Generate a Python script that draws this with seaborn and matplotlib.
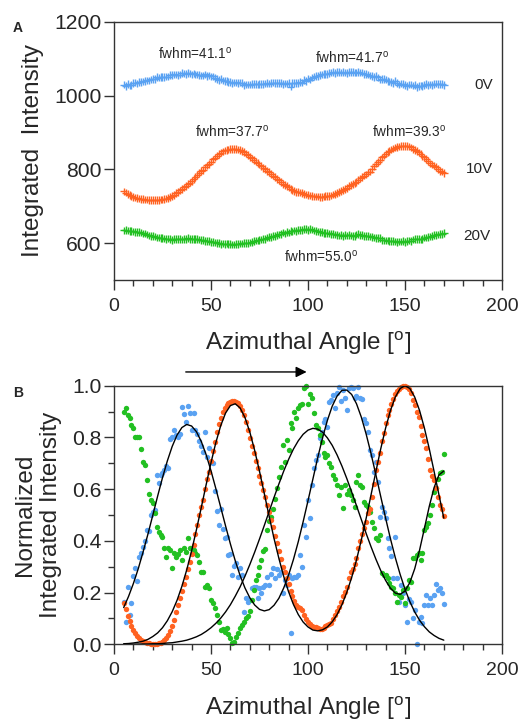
import numpy as np
import pandas as pd
import matplotlib
matplotlib.use("Agg")
import matplotlib.pyplot as plt
import seaborn as sns
from matplotlib.ticker import MultipleLocator, FormatStrFormatter

sns.set_style("ticks")
plt.rcParams['font.family'] = ['Liberation Sans', 'DejaVu Sans']
plt.rcParams['mathtext.fontset'] = 'custom'
plt.rcParams['mathtext.rm'] = 'Liberation Sans'
plt.rcParams['mathtext.it'] = 'Liberation Sans:italic'

# ---------------------------------------------------------------- data
angle = list(range(5, 171))          # azimuthal angle, degrees

# normalized integrated intensity, one value per degree
norm_0v = [
    0.165, 0.088, 0.222, 0.112, 0.158, 0.265, 0.294, 0.243, 0.339, 0.352,
    0.375, 0.398, 0.440, 0.438, 0.500, 0.512, 0.520, 0.655, 0.625, 0.655,
    0.662, 0.672, 0.688, 0.680, 0.795, 0.800, 0.828, 0.810, 0.800, 0.812,
    0.918, 0.892, 0.860, 0.920, 0.895, 0.828, 0.895, 0.830, 0.815, 0.785,
    0.765, 0.745, 0.822, 0.725, 0.760, 0.705, 0.700, 0.592, 0.515, 0.462,
    0.525, 0.445, 0.410, 0.415, 0.345, 0.348, 0.268, 0.302, 0.315, 0.262,
    0.295, 0.268, 0.126, 0.178, 0.165, 0.172, 0.216, 0.222, 0.223, 0.178,
    0.216, 0.200, 0.223, 0.229, 0.262, 0.230, 0.270, 0.294, 0.255, 0.292,
    0.268, 0.280, 0.197, 0.248, 0.230, 0.268, 0.042, 0.255, 0.262, 0.260,
    0.268, 0.345, 0.300, 0.462, 0.416, 0.558, 0.488, 0.616, 0.680, 0.712,
    0.732, 0.796, 0.822, 0.861, 0.873, 0.841, 0.938, 0.944, 0.964, 0.912,
    0.970, 0.996, 0.940, 0.983, 0.951, 0.906, 0.990, 0.996, 0.990, 0.951,
    0.960, 0.996, 0.951, 0.950, 0.873, 0.854, 0.820, 0.751, 0.732, 0.667,
    0.706, 0.629, 0.493, 0.532, 0.513, 0.487, 0.410, 0.371, 0.340, 0.255,
    0.416, 0.255, 0.165, 0.229, 0.200, 0.152, 0.087, 0.175, 0.165, 0.100,
    0.133, 0.003, 0.087, 0.107, 0.081, 0.150, 0.190, 0.152, 0.178, 0.152,
    0.190, 0.232, 0.210, 0.216, 0.197, 0.154,
]
norm_10v = [
    0.160, 0.135, 0.110, 0.090, 0.072, 0.056, 0.043, 0.033, 0.024, 0.018,
    0.013, 0.009, 0.006, 0.004, 0.003, 0.003, 0.002, 0.003, 0.004, 0.006,
    0.010, 0.016, 0.024, 0.036, 0.052, 0.070, 0.095, 0.125, 0.150, 0.178,
    0.205, 0.232, 0.262, 0.292, 0.320, 0.350, 0.382, 0.425, 0.462, 0.498,
    0.530, 0.556, 0.600, 0.640, 0.667, 0.710, 0.748, 0.783, 0.820, 0.850,
    0.875, 0.898, 0.915, 0.925, 0.932, 0.938, 0.940, 0.941, 0.938, 0.932,
    0.920, 0.905, 0.885, 0.858, 0.828, 0.797, 0.768, 0.738, 0.708, 0.680,
    0.652, 0.622, 0.595, 0.568, 0.540, 0.512, 0.482, 0.452, 0.420, 0.390,
    0.360, 0.328, 0.300, 0.278, 0.255, 0.232, 0.205, 0.185, 0.168, 0.152,
    0.145, 0.140, 0.132, 0.115, 0.098, 0.088, 0.080, 0.072, 0.068, 0.066,
    0.062, 0.060, 0.058, 0.062, 0.070, 0.075, 0.078, 0.082, 0.098, 0.112,
    0.128, 0.145, 0.165, 0.185, 0.202, 0.222, 0.255, 0.278, 0.292, 0.312,
    0.335, 0.372, 0.398, 0.425, 0.450, 0.474, 0.508, 0.525, 0.570, 0.620,
    0.672, 0.705, 0.740, 0.785, 0.818, 0.855, 0.885, 0.905, 0.930, 0.950,
    0.968, 0.978, 0.988, 0.995, 0.999, 1.000, 0.995, 0.988, 0.972, 0.945,
    0.925, 0.900, 0.878, 0.845, 0.810, 0.785, 0.758, 0.715, 0.675, 0.652,
    0.635, 0.605, 0.570, 0.540, 0.525, 0.495,
]
norm_20v = [
    0.900, 0.912, 0.886, 0.876, 0.848, 0.835, 0.803, 0.800, 0.803, 0.757,
    0.706, 0.693, 0.635, 0.583, 0.558, 0.545, 0.506, 0.455, 0.435, 0.422,
    0.416, 0.373, 0.339, 0.373, 0.364, 0.294, 0.352, 0.339, 0.350, 0.364,
    0.326, 0.371, 0.358, 0.410, 0.371, 0.371, 0.364, 0.352, 0.345, 0.319,
    0.281, 0.278, 0.223, 0.229, 0.216, 0.170, 0.159, 0.139, 0.113, 0.085,
    0.055, 0.060, 0.049, 0.062, 0.040, 0.023, 0.004, 0.010, 0.030, 0.042,
    0.062, 0.075, 0.088, 0.100, 0.110, 0.130, 0.170, 0.210, 0.250, 0.268,
    0.300, 0.326, 0.362, 0.370, 0.442, 0.475, 0.493, 0.525, 0.560, 0.603,
    0.645, 0.687, 0.770, 0.706, 0.790, 0.751, 0.855, 0.835, 0.899, 0.874,
    0.912, 0.925, 0.930, 0.990, 1.000, 0.930, 0.968, 0.951, 0.893, 0.848,
    0.835, 0.809, 0.783, 0.738, 0.725, 0.732, 0.700, 0.687, 0.654, 0.641,
    0.616, 0.577, 0.609, 0.526, 0.616, 0.583, 0.596, 0.577, 0.558, 0.532,
    0.629, 0.654, 0.616, 0.610, 0.551, 0.538, 0.532, 0.513, 0.474, 0.448,
    0.410, 0.403, 0.423, 0.274, 0.268, 0.268, 0.255, 0.236, 0.223, 0.216,
    0.197, 0.165, 0.190, 0.184, 0.210, 0.158, 0.216, 0.248, 0.242, 0.332,
    0.335, 0.346, 0.352, 0.326, 0.352, 0.442, 0.455, 0.468, 0.500, 0.538,
    0.590, 0.603, 0.641, 0.661, 0.665, 0.735,
]

# raw intensity range (min, max) of each voltage, used to undo the normalization
intensity_range = {"0V": (1023, 1065), "10V": (717, 864), "20V": (596, 639)}

# fitted curves, sampled every 2.5 degrees from 5 to 170
fit_angle = [5 + 2.5 * i for i in range(67)]
fit_0v = [
    0.142, 0.185, 0.235, 0.292, 0.357, 0.426, 0.499, 0.573, 0.644, 0.709,
    0.765, 0.809, 0.838, 0.850, 0.844, 0.822, 0.784, 0.733, 0.671, 0.602,
    0.530, 0.458, 0.388, 0.323, 0.266, 0.218, 0.180, 0.152, 0.135, 0.129,
    0.134, 0.151, 0.178, 0.218, 0.268, 0.328, 0.397, 0.474, 0.555, 0.638,
    0.721, 0.798, 0.866, 0.921, 0.960, 0.982, 0.983, 0.966, 0.930, 0.878,
    0.812, 0.737, 0.655, 0.571, 0.488, 0.408, 0.335, 0.270, 0.213, 0.165,
    0.125, 0.093, 0.068, 0.048, 0.034, 0.023, 0.016,
]
fit_10v = [
    0.002, 0.003, 0.005, 0.008, 0.012, 0.019, 0.030, 0.044, 0.064, 0.091,
    0.126, 0.170, 0.224, 0.288, 0.361, 0.443, 0.529, 0.617, 0.702, 0.780,
    0.845, 0.894, 0.923, 0.930, 0.914, 0.877, 0.821, 0.750, 0.669, 0.582,
    0.494, 0.409, 0.332, 0.262, 0.203, 0.154, 0.115, 0.086, 0.067, 0.055,
    0.052, 0.056, 0.067, 0.087, 0.115, 0.153, 0.201, 0.258, 0.326, 0.404,
    0.488, 0.578, 0.668, 0.756, 0.836, 0.904, 0.956, 0.989, 1.000, 0.989,
    0.956, 0.904, 0.836, 0.756, 0.668, 0.578, 0.488,
]
fit_20v = [
    0.000, 0.000, 0.000, 0.001, 0.001, 0.001, 0.002, 0.002, 0.003, 0.005,
    0.006, 0.009, 0.012, 0.016, 0.022, 0.029, 0.038, 0.050, 0.064, 0.081,
    0.101, 0.125, 0.153, 0.186, 0.222, 0.263, 0.308, 0.356, 0.407, 0.460,
    0.514, 0.568, 0.620, 0.670, 0.715, 0.755, 0.787, 0.812, 0.828, 0.835,
    0.832, 0.820, 0.798, 0.769, 0.732, 0.689, 0.641, 0.589, 0.536, 0.482,
    0.428, 0.377, 0.329, 0.285, 0.247, 0.217, 0.198, 0.193, 0.206, 0.239,
    0.292, 0.364, 0.448, 0.533, 0.606, 0.655, 0.670,
]

voltages = ["0V", "10V", "20V"]
palette = {"0V": "#5aa2f2", "10V": "#ff6221", "20V": "#22c022"}

# fwhm annotations: (text, angle, intensity)
fwhm_labels = [
    ("41.1", 41.8, 1113), ("41.7", 122.9, 1104),
    ("37.7", 60.7, 903), ("39.3", 152.0, 903),
    ("55.0", 106.7, 564),
]
# voltage labels: (text, angle, intensity)
volt_labels = [("0V", 185.5, 1029), ("10V", 181.5, 800), ("20V", 180.0, 620)]

# ---------------------------------------------------------------- tables
norm = {"0V": norm_0v, "10V": norm_10v, "20V": norm_20v}
fits = {"0V": fit_0v, "10V": fit_10v, "20V": fit_20v}
frames = []
for v in voltages:
    lo, hi = intensity_range[v]
    n = np.asarray(norm[v])
    frames.append(pd.DataFrame({"angle": angle, "voltage": v,
                                "normalized": n,
                                "intensity": lo + n * (hi - lo)}))
data = pd.concat(frames, ignore_index=True)

# ---------------------------------------------------------------- figure
fig = plt.figure(figsize=(5.2, 7.21), dpi=100)
axA = fig.add_axes([0.2192, 0.6117, 0.7462, 0.3578])
axB = fig.add_axes([0.2192, 0.1064, 0.7462, 0.3587])

sns.scatterplot(data=data, x="angle", y="intensity", hue="voltage",
                hue_order=voltages, palette=palette, marker="+", s=30,
                linewidth=1.0, legend=False, ax=axA)

for v in ["0V", "20V", "10V"]:
    sub = data[data["voltage"] == v]
    sns.scatterplot(data=sub, x="angle", y="normalized", color=palette[v],
                    s=15, linewidth=0, legend=False, ax=axB, clip_on=False,
                    zorder=2)
for v in voltages:
    sns.lineplot(x=fit_angle, y=fits[v], color="black", linewidth=1.0,
                 ax=axB, zorder=3)

label_font = 17.5
xtick_font = 14.0
ytick_font = 15.2
spine_color = "#333333"

for ax in (axA, axB):
    ax.set_xlim(0, 200)
    ax.xaxis.set_major_locator(MultipleLocator(50))
    ax.xaxis.set_minor_locator(MultipleLocator(10))
    ax.tick_params(which="major", direction="out", length=7, width=1.0,
                   color=spine_color)
    ax.tick_params(axis="x", which="major", pad=6, labelsize=xtick_font)
    ax.tick_params(axis="y", which="major", pad=2, labelsize=ytick_font)
    ax.tick_params(which="minor", direction="out", length=4.3, width=1.0,
                   color=spine_color)
    for s in ax.spines.values():
        s.set_visible(True)
        s.set_linewidth(1.0)
        s.set_color(spine_color)
    ax.set_xlabel(r"Azimuthal Angle [$^\mathrm{o}$]", fontsize=label_font,
                  labelpad=11)

axA.set_ylim(500, 1200)
axA.set_yticks([600, 800, 1000, 1200])
axA.set_ylabel("Integrated  Intensity", fontsize=label_font)
axA.yaxis.set_label_coords(-0.18, 0.5)

axB.set_ylim(0, 1.0)
axB.yaxis.set_major_locator(MultipleLocator(0.2))
axB.yaxis.set_minor_locator(MultipleLocator(0.1))
axB.yaxis.set_major_formatter(FormatStrFormatter("%.1f"))
axB.set_ylabel("Normalized\nIntegrated Intensity", fontsize=label_font,
               linespacing=1.2)
axB.yaxis.set_label_coords(-0.135, 0.5)

for val, x, y in fwhm_labels:
    axA.text(x, y, "fwhm=" + val + r"$^\mathrm{o}$", fontsize=9.8,
             ha="center", va="center")
for txt, x, y in volt_labels:
    axA.text(x, y, txt, fontsize=11, ha="left", va="center")

axB.annotate("", xy=(99.3, 1.053), xytext=(37, 1.053),
             arrowprops=dict(arrowstyle="-|>", color="black", lw=1.0,
                             mutation_scale=16, shrinkA=0, shrinkB=0),
             annotation_clip=False)

fig.text(18 / 520, 1 - 28 / 721, "A", fontsize=10, fontweight="bold",
         ha="center", va="center")
fig.text(18 / 520, 1 - 393 / 721, "B", fontsize=10, fontweight="bold",
         ha="center", va="center")

fig.savefig("out.png", dpi=100)
